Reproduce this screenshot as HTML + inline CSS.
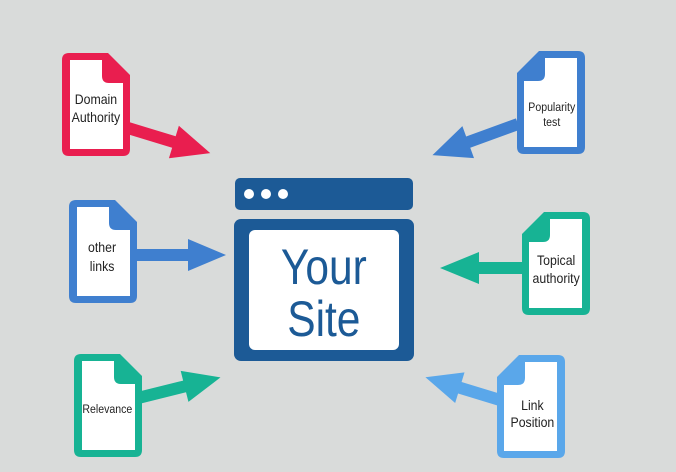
<!DOCTYPE html>
<html><head><meta charset="utf-8"><style>
html,body{margin:0;padding:0;background:#d9dbda;}
svg{display:block}
text{font-family:"Liberation Sans",sans-serif;fill:#222;text-anchor:middle}
</style></head><body>
<svg width="676" height="472" viewBox="0 0 676 472">
<defs>
<path id="doc" d="M7,0 H46 L68,22 V96 Q68,103 61,103 H7 Q0,103 0,96 V7 Q0,0 7,0 Z"/>
<path id="docin" d="M8,7 H40 V23 Q40,30 47,30 H61 V96 H8 Z"/>
</defs>
<g fill="#e91e4f" transform="translate(128,128) rotate(17)"><path d="M0,-6 H48 V-17 L86,0 L48,17 V6 H0 Z"/></g>
<g fill="#3f7fcf" transform="translate(518,124) rotate(160)"><path d="M0,-6 H53 V-17 L91,0 L53,17 V6 H0 Z"/></g>
<g fill="#3f7fcf" transform="translate(134,255)"><path d="M0,-6 H54 V-16 L92,0 L54,16 V6 H0 Z"/></g>
<g fill="#17b394" transform="translate(524,268) rotate(180)"><path d="M0,-6 H45 V-16 L84,0 L45,16 V6 H0 Z"/></g>
<g fill="#17b394" transform="translate(138,398) rotate(-14)"><path d="M0,-6 H48 V-16 L85,0 L48,16 V6 H0 Z"/></g>
<g fill="#5aa7ea" transform="translate(500,400) rotate(197)"><path d="M0,-6 H42 V-16 L78,0 L42,16 V6 H0 Z"/></g>
<g transform="translate(62,53)"><use href="#doc" fill="#e91e4f"/><use href="#docin" fill="#fff"/></g>
<g transform="translate(69,200)"><use href="#doc" fill="#3f7fcf"/><use href="#docin" fill="#fff"/></g>
<g transform="translate(74,354)"><use href="#doc" fill="#17b394"/><use href="#docin" fill="#fff"/></g>
<g transform="translate(585,51) scale(-1,1)"><use href="#doc" fill="#3f7fcf"/><use href="#docin" fill="#fff"/></g>
<g transform="translate(590,212) scale(-1,1)"><use href="#doc" fill="#17b394"/><use href="#docin" fill="#fff"/></g>
<g transform="translate(565,355) scale(-1,1)"><use href="#doc" fill="#5aa7ea"/><use href="#docin" fill="#fff"/></g>
<g transform="scale(0.88,1)">
<text x="109" y="104" font-size="14">Domain</text>
<text x="109" y="122" font-size="14">Authority</text>
<text x="116" y="252" font-size="14">other</text>
<text x="116" y="271" font-size="14">links</text>
<text x="122" y="413" font-size="12">Relevance</text>
<text x="627" y="111" font-size="12">Popularity</text>
<text x="627" y="126" font-size="12">test</text>
<text x="632" y="265" font-size="14">Topical</text>
<text x="632" y="283" font-size="14">authority</text>
<text x="605" y="410" font-size="14">Link</text>
<text x="605" y="427" font-size="14">Position</text>
</g>
<rect x="235" y="178" width="178" height="32" rx="5" fill="#1c5a96"/>
<circle cx="249" cy="194" r="5" fill="#fff"/>
<circle cx="266" cy="194" r="5" fill="#fff"/>
<circle cx="283" cy="194" r="5" fill="#fff"/>
<rect x="234" y="219" width="180" height="142" rx="7" fill="#1c5a96"/>
<rect x="249" y="230" width="150" height="120" rx="6" fill="#fff"/>
<g transform="scale(0.85,1)">
<text x="381" y="284" font-size="50" style="fill:#1c5a96">Your</text>
<text x="381" y="336" font-size="50" style="fill:#1c5a96">Site</text>
</g>
</svg>
</body></html>
